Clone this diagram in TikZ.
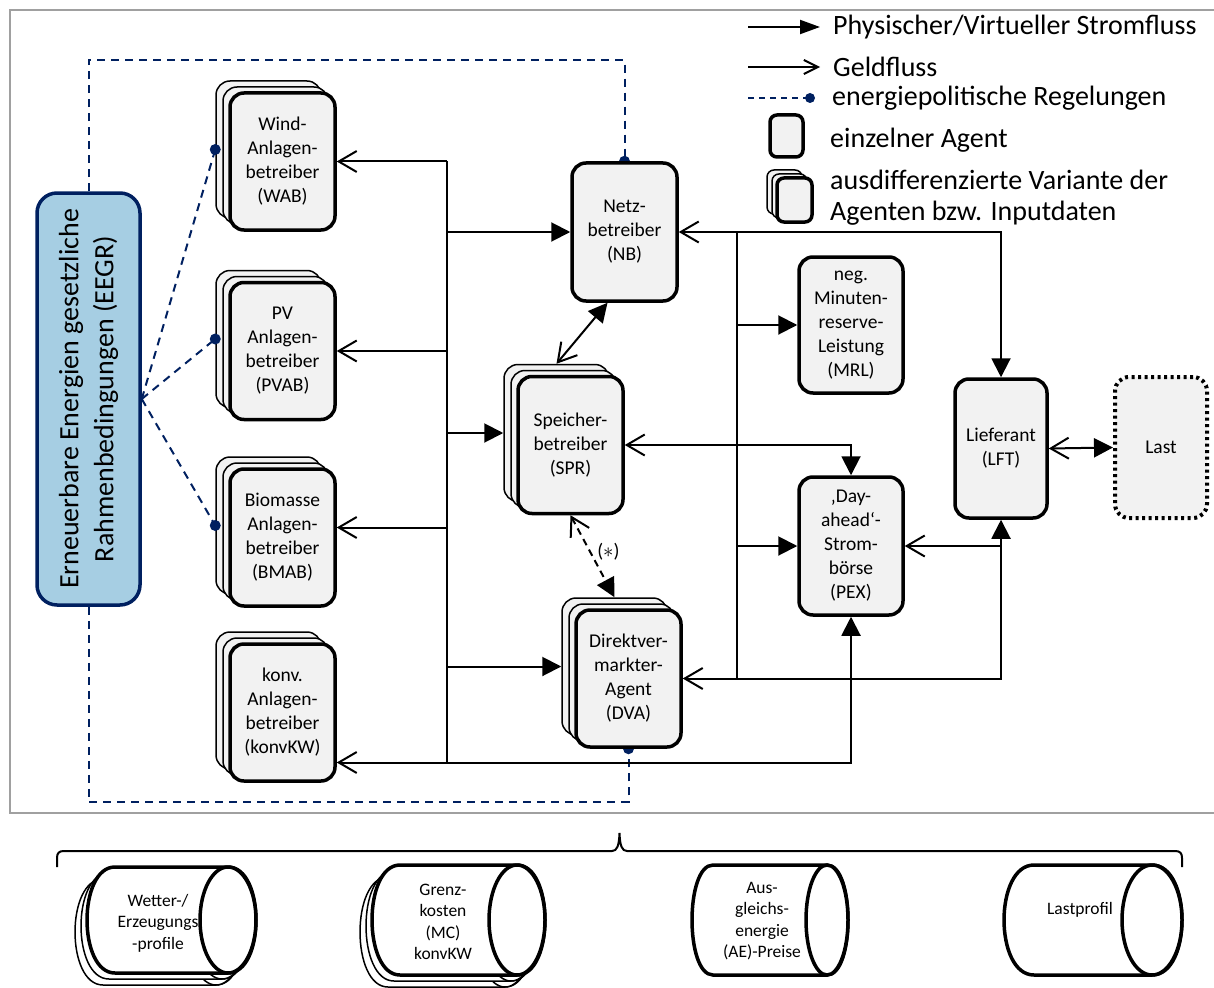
\documentclass[tikz,border=0pt]{standalone}
\usepackage{fontspec}
\setmainfont{Carlito}
\usetikzlibrary{arrows.meta,backgrounds,calc}

\definecolor{polnavy}{RGB}{0,32,96}
\definecolor{eegrblue}{RGB}{166,206,227}
\definecolor{boxfill}{RGB}{242,242,242}
\definecolor{framegray}{RGB}{160,160,160}

\newcommand\boxfont{\fontsize{19.5}{24}\selectfont}
\newcommand\legfont{\fontsize{28}{31}\selectfont}
\newcommand\eegrfont{\fontsize{28}{35}\selectfont}
\newcommand\cylfont{\fontsize{17.5}{21.5}\selectfont}

% agent with two offset copies behind it
\newcommand\stackagent[3]{%
  \node[backbox] (#1-b2) at ([xshift=-14pt,yshift=12pt]#2) {};
  \node[backbox] (#1-b1) at ([xshift=-7pt,yshift=6pt]#2) {};
  \node[agent] (#1) at (#2) {#3};}

% data store lying on its side: left edge, centre of right face, top, bottom, face radius
\newcommand\cylshape[6]{%
  \filldraw[#6] ({#1+#5},#3) -- (#2,#3)
     .. controls ({#2+1.333*#5},#3) and ({#2+1.333*#5},#4) .. (#2,#4)
     -- ({#1+#5},#4)
     .. controls ({#1-0.333*#5},#4) and ({#1-0.333*#5},#3) .. cycle;
  \draw[#6] (#2,{(#3+#4)/2}) ellipse [x radius=#5, y radius={(#4-#3)/2}];}

\begin{document}
\begin{tikzpicture}[x=1pt,y=-1pt,
  ftip/.tip={Triangle[length=19pt,width=19pt]},
  otip/.tip={Straight Barb[length=18pt,width=21pt]},
  lftip/.tip={Triangle[length=20pt,width=14pt]},
  lotip/.tip={Straight Barb[length=14pt,width=14pt]},
  conn/.style={line width=2pt,black},
  agent/.style={draw,line width=3.5pt,fill=boxfill,rounded corners=14pt,
    minimum width=105pt,minimum height=137pt,inner sep=0pt,align=center,font=\boxfont},
  backbox/.style={draw,line width=1.5pt,fill=boxfill,rounded corners=14pt,
    minimum width=105pt,minimum height=137pt},
  policy/.style={draw=polnavy,line width=2pt,dash pattern=on 8pt off 6pt},
  poldot/.style={fill=polnavy},
  legtext/.style={anchor=west,inner sep=0pt,font=\legfont,align=left},
  cylfront/.style={draw,line width=3.5pt,fill=white},
  cylback/.style={draw,line width=1.5pt,fill=white},
  cyltext/.style={inner sep=0pt,align=center,font=\cylfont}]

\useasboundingbox (0,0) rectangle (1214,987);

% outer frame
\draw[framegray,line width=2pt] (10,10) rectangle (1240,813);

% ---------------- legend ----------------
\coordinate (la1) at (748,27); \coordinate (lb1) at (820,27);
\draw[conn,-lftip] (la1) -- (lb1);
\node[legtext] (lt1) at (833,27) {Physischer/Virtueller Stromfluss};
\coordinate (la2) at (748,67); \coordinate (lb2) at (820,67);
\draw[conn,-lotip] (la2) -- (lb2);
\node[legtext] (lt2) at (833,67) {Geldfluss};
\coordinate (la3) at (748,98); \coordinate (lb3) at (810,98);
\draw[policy,dash pattern=on 6pt off 5pt] (la3) -- (lb3);
\fill[poldot] (lb3) circle (5pt);
\node[legtext] (lt3) at (832,98) {energiepolitische Regelungen};
\node[draw,line width=3.5pt,fill=boxfill,rounded corners=7pt,
  minimum width=33pt,minimum height=42pt] (lsingle) at (786.5,136) {};
\node[legtext] (lt4) at (830,140) {einzelner Agent};
\node[draw,line width=1.5pt,fill=boxfill,rounded corners=7pt,
  minimum width=35pt,minimum height=44pt] (lstack-b2) at (784.5,192) {};
\node[draw,line width=1.5pt,fill=boxfill,rounded corners=7pt,
  minimum width=35pt,minimum height=44pt] (lstack-b1) at (789.5,196) {};
\node[draw,line width=3.5pt,fill=boxfill,rounded corners=7pt,
  minimum width=35pt,minimum height=44pt] (lstack) at (794.5,200) {};
\node[legtext] (lt5) at (830,197.5) {ausdifferenzierte Variante der\\Agenten bzw. Inputdaten};

% ---------------- framework box ----------------
\node[draw=polnavy,line width=3.5pt,fill=eegrblue,rounded corners=20pt,rotate=90,
  minimum width=412pt,minimum height=103pt,inner sep=0pt,align=center,font=\eegrfont]
  (eegr) at (88.5,399) {Erneuerbare Energien gesetzliche\\Rahmenbedingungen (EEGR)};

% ---------------- generators ----------------
\stackagent{wab}{282.5,161.5}{Wind-\\Anlagen-\\betreiber\\(WAB)}
\stackagent{pvab}{282.5,351}{PV\\Anlagen-\\betreiber\\(PVAB)}
\stackagent{bmab}{282.5,537.5}{Biomasse\\Anlagen-\\betreiber\\(BMAB)}
\stackagent{konv}{282.5,712.5}{konv.\\Anlagen-\\betreiber\\(konvKW)}

% ---------------- market actors ----------------
\node[agent,minimum height=138pt] (nb) at (624.5,232) {Netz-\\betreiber\\(NB)};
\stackagent{spr}{570.5,445}{Speicher-\\betreiber\\(SPR)}
\stackagent{dva}{628.5,678.5}{Direktver-\\markter-\\Agent\\(DVA)}
\node[agent,minimum width=104pt,minimum height=136pt] (mrl) at (851,325)
  {neg.\\Minuten-\\reserve-\\Leistung\\(MRL)};
\node[agent,minimum width=104pt,minimum height=138pt] (pex) at (851,546)
  {‚Day-\\ahead‘-\\Strom-\\börse\\(PEX)};
\node[agent,minimum width=92pt,minimum height=139pt] (lft) at (1001,448.5)
  {Lieferant\\(LFT)};
\node[agent,minimum width=92pt,minimum height=141pt,line width=4pt,
  dash pattern=on 3pt off 3.5pt] (last) at (1161,447.5) {Last};

% ---------------- policy links ----------------
\begin{scope}[on background layer]
  \draw[policy] (eegr.east) -- (eegr.east |- 0,60) -| (nb.north);
  \fill[poldot] (nb.north) circle (5.5pt);
  \draw[policy] (eegr.west) -- (eegr.west |- 0,802) -| (dva.south);
  \fill[poldot] (dva.south) circle (5.5pt);
\end{scope}
\draw[policy] (eegr.south) -- (wab-b2.west);
\draw[policy] (eegr.south) -- (pvab-b2.west);
\draw[policy] (eegr.south) -- (bmab-b2.west);
\fill[poldot] (wab-b2.west) circle (5.5pt);
\fill[poldot] (pvab-b2.west) circle (5.5pt);
\fill[poldot] (bmab-b2.west) circle (5.5pt);

% ---------------- energy and money flows ----------------
\begin{scope}[conn]
  \coordinate (bin) at ([yshift=10pt]bmab.east);
  \coordinate (kin) at ([yshift=-50pt]konv.east);
  % left distribution bus
  \draw (447,0 |- wab.east) -- (447,0 |- kin);
  \draw[-otip] (447,0 |- wab.east) -- (wab.east);
  \draw[-otip] (447,0 |- pvab.east) -- (pvab.east);
  \draw[-otip] (447,0 |- bin) -- (bin);
  \draw[otip-ftip] (kin) -| (pex.south);
  \draw[-ftip] (447,0 |- nb.west) -- (nb.west);
  \draw[-ftip] (447,0 |- spr-b2.west) -- (spr-b2.west);
  \draw[-ftip] (447,0 |- dva-b2.west) -- (dva-b2.west);
  % grid operator and storage
  \draw[ftip-otip] ([xshift=-17pt]nb.south) -- (spr-b2.north);
  \draw[otip-ftip] (nb.east) -| (lft.north);
  \draw[otip-ftip] (spr.east) -| (pex.north);
  \draw[otip-ftip,dash pattern=on 7pt off 5pt] (spr.south) -- (dva-b2.north)
    node[pos=0.45,anchor=west,xshift=6pt,inner sep=0pt,font=\boxfont] (star) {($\ast$)};
  % right distribution bus
  \draw (737,0 |- nb.east) -- (737,0 |- dva.east);
  \draw[-ftip] (737,0 |- mrl.west) -- (mrl.west);
  \draw[-ftip] (737,0 |- pex.west) -- (pex.west);
  \draw[otip-] (pex.east) -- (lft.south |- pex.east);
  \draw[otip-ftip] (dva.east) -| (lft.south);
  \draw[otip-ftip] (lft.east) -- (last.west);
\end{scope}

% ---------------- input data stores ----------------
\draw[line width=2pt] (57,867) -- (57,858) .. controls (57,853) and (59,851) .. (64,851)
  -- (612,851) .. controls (617,851) and (619,846) .. (619.5,833)
  .. controls (620,846) and (622,851) .. (627,851)
  -- (1175,851) .. controls (1180,851) and (1182,853) .. (1182,858) -- (1182,867);

\cylshape{75}{216}{879}{985}{28}{cylback}
\cylshape{81}{222}{873}{979}{28}{cylback}
\cylshape{87}{228}{867}{973}{28}{cylfront}
\node[cyltext] (wetter) at (158,923) {Wetter-/\\Erzeugungs\\-profile};

\cylshape{360}{505}{877}{987}{28}{cylback}
\cylshape{366}{511}{871}{981}{28}{cylback}
\cylshape{372}{517}{865}{975}{28}{cylfront}
\node[cyltext] (mc) at (443,922) {Grenz-\\kosten\\(MC)\\konvKW};

\cylshape{692}{827}{865}{975}{21}{cylfront}
\node[cyltext] (ae) at (762,921) {Aus-\\gleichs-\\energie\\(AE)-Preise};

\cylshape{1004}{1152}{865}{975}{30}{cylfront}
\node[cyltext] (lastprofil) at (1080,910) {Lastprofil};

\end{tikzpicture}
\end{document}
